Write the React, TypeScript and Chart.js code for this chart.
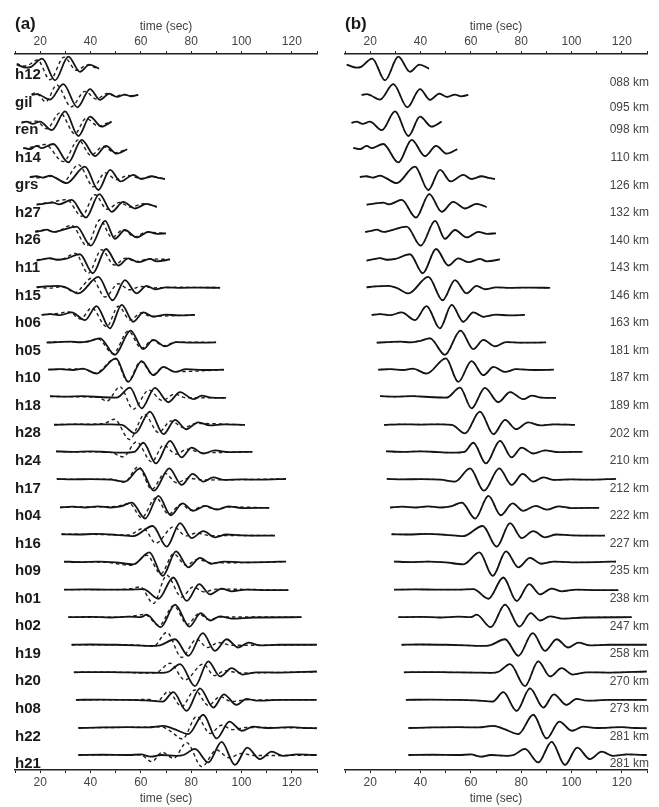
import React, { useEffect, useRef } from 'react';
import { Chart, registerables } from 'chart.js';

Chart.register(...registerables);

const stations = ['h12','gil','ren','h14','grs','h27','h26','h11','h15','h06','h05','h10','h18','h28','h24','h17','h04','h16','h09','h01','h02','h19','h20','h08','h22','h21'];
const distances = ['088 km','095 km','098 km','110 km','126 km','132 km','140 km','143 km','146 km','163 km','181 km','187 km','189 km','202 km','210 km','212 km','222 km','227 km','235 km','238 km','247 km','258 km','270 km','273 km','281 km','281 km'];
const timeTickLabels = [20, 40, 60, 80, 100, 120];

// [time (s), amplitude in trace-spacing units]
const sH12 = [[10.7,0.05],[14.6,-0.06],[16.4,-0.03],[20.8,0.27],[25.9,-0.52],[31.2,0.34],[35.8,-0.21],[39.6,0.05],[43.4,-0.1]];
const dH12 = [[10.7,0.08],[13.8,0.0],[15.3,0.03],[18.9,0.22],[23.9,-0.5],[29.5,0.32],[34.5,-0.16],[38.7,0.04],[42.4,-0.08]];
const sGil = [[16.6,-0.05],[18.6,-0.02],[20.5,-0.08],[23.9,-0.22],[29.2,0.34],[34.8,-0.5],[39.8,0.16],[43.8,-0.23],[47.5,0.0],[50.5,-0.12],[53.7,-0.04],[56.2,-0.1],[59,-0.05]];
const dGil = [[16.6,-0.02],[18.3,0.03],[22.2,-0.3],[26.6,0.31],[32.3,-0.48],[37.8,0.08],[42.4,-0.2],[46.6,0.0],[50,-0.1],[53,-0.03],[56,-0.08],[58.5,-0.04]];
const sRen = [[12.6,-0.06],[14.6,-0.02],[17,-0.1],[19.9,-0.02],[24.6,-0.33],[29.9,0.35],[35.2,-0.54],[39.8,0.16],[44.4,-0.2],[48.4,-0.02]];
const dRen = [[12.6,-0.03],[15,-0.05],[18.5,0.0],[22.6,-0.28],[27.9,0.3],[33.8,-0.46],[38.2,0.1],[43.1,-0.18],[47.8,-0.02]];
const sH14 = [[13.3,0.03],[16,-0.02],[18.6,0.1],[20.6,0.02],[25.2,0.17],[31.2,-0.5],[36.5,0.32],[41.8,-0.27],[46.2,0.1],[50.4,-0.18],[54.6,-0.02]];
const dH14 = [[13.3,0.0],[17,0.06],[21.9,0.15],[29.2,-0.47],[35.2,0.32],[40.1,-0.24],[45.1,0.08],[49.7,-0.15],[54.4,-0.02]];
const sGrs = [[15.9,-0.03],[18.5,0.0],[21,-0.05],[24,0.02],[26.5,-0.08],[30.5,-0.25],[37.8,0.35],[43.1,-0.5],[47.8,0.23],[52,-0.19],[57,0.05],[60.3,-0.1],[64.3,0.0],[67,-0.06],[69.6,-0.1]];
const dGrs = [[15.9,-0.03],[20,-0.06],[24.6,0.0],[29.2,-0.2],[35.2,0.42],[41.2,-0.38],[45.8,0.12],[50.4,-0.12],[55,0.03],[60,-0.08],[65,-0.02],[69.6,-0.1]];
const sH27 = [[18.6,-0.03],[21,0.0],[25.2,0.04],[27.5,-0.02],[32.5,0.14],[38.2,-0.5],[43.5,0.35],[48.4,-0.29],[53,0.07],[57.7,-0.17],[62.3,0.0],[66.3,-0.12]];
const dH27 = [[18.6,-0.02],[24,0.05],[30.5,0.15],[36.5,-0.45],[41.8,0.33],[46.6,-0.2],[51.5,0.05],[56,-0.12],[61,0.0],[66.3,-0.1]];
const sH26 = [[18,-0.02],[20.5,0.02],[22.6,0.06],[25.2,-0.02],[28,0.03],[34.5,0.17],[40.1,-0.52],[45.8,0.38],[49.7,-0.27],[53.7,0.05],[58.3,-0.22],[63,-0.02],[66.5,-0.09],[70,-0.07]];
const dH26 = [[18,0.0],[22,0.05],[26,-0.02],[32.5,0.22],[38.5,-0.52],[43.8,0.42],[48.5,-0.22],[53,0.06],[57.5,-0.2],[62,-0.03],[70,-0.08]];
const sH11 = [[18.6,-0.06],[21,-0.02],[23.9,0.03],[26.6,-0.03],[30,0.0],[35.8,0.17],[40.9,-0.52],[46.2,0.36],[51.1,-0.24],[55,0.02],[59,-0.12],[63.6,0.0],[66.3,-0.09],[71.6,-0.02]];
const dH11 = [[18.6,-0.04],[23,0.02],[28,-0.03],[34,0.2],[39.1,-0.52],[44.4,0.33],[49.5,-0.22],[54,0.03],[58,-0.1],[63,0.0],[71.6,-0.02]];
const sH15 = [[18.6,-0.03],[22,0.0],[27.2,0.02],[30.5,-0.05],[35.2,-0.25],[43.1,0.35],[48.8,-0.5],[53.7,0.23],[58.3,-0.25],[62.3,0.02],[65.6,-0.1],[70,-0.03],[76,-0.05],[84,-0.04],[91.5,-0.05]];
const dH15 = [[18.6,-0.02],[24,-0.06],[29,0.0],[33.8,-0.22],[40.5,0.3],[45.8,-0.38],[51.1,0.1],[55.5,-0.12],[60,0.0],[65,-0.05],[75,-0.03],[91.5,-0.04]];
const sH06 = [[20.6,-0.03],[24,0.0],[28,-0.04],[32.5,0.06],[37.8,-0.22],[42.4,0.29],[47.7,-0.52],[52.4,0.33],[57,-0.28],[61,0.06],[65,-0.1],[70,-0.02],[75,-0.05],[81.5,-0.03]];
const dH06 = [[20.6,-0.02],[27,0.02],[31.5,0.08],[36,-0.18],[40.5,0.22],[46.4,-0.46],[51.1,0.28],[55.8,-0.22],[60,0.04],[64,-0.08],[81.5,-0.03]];
const sH05 = [[22.6,-0.04],[27,-0.02],[32,0.0],[36,-0.03],[40,0.03],[43.8,0.12],[49.7,-0.48],[55.9,0.4],[61,-0.27],[65,0.06],[69.6,-0.17],[74,-0.02],[80,-0.04],[89.9,-0.03]];
const dH05 = [[22.6,-0.03],[30,0.0],[38,-0.02],[43,0.1],[49,-0.44],[55,0.38],[60.3,-0.25],[64.5,0.05],[69,-0.15],[74,-0.02],[89.9,-0.03]];
const sH10 = [[23.2,-0.02],[28,0.0],[33,-0.03],[37,0.02],[42.4,-0.16],[50.1,0.39],[55,-0.46],[60.3,0.29],[65,-0.22],[69,0.08],[73.6,-0.1],[78,0.0],[85,-0.03],[93,-0.02]];
const dH10 = [[23.2,-0.01],[30,0.0],[37,0.01],[42,-0.14],[49.8,0.38],[54.8,-0.45],[60,0.28],[64.8,-0.2],[69,0.07],[73.5,-0.09],[93,-0.02]];
const sH18 = [[23.9,0.02],[30,0.0],[37,0.02],[45,-0.02],[50.4,-0.03],[55.7,0.33],[60.3,-0.42],[65.6,0.32],[70.9,-0.2],[75.6,0.17],[80.9,-0.09],[84.2,0.04],[88,-0.03],[93.8,-0.04]];
const dH18 = [[23.9,0.01],[35,0.0],[43,-0.02],[46.5,-0.16],[51.7,0.36],[57,-0.45],[63.2,0.24],[68.5,-0.14],[73.5,0.1],[78,-0.04],[93.8,-0.04]];
const sH28 = [[25.5,-0.02],[32,0.0],[40,-0.01],[48,0.0],[52.5,-0.02],[57.7,-0.33],[63.6,0.46],[69,-0.36],[73.6,0.16],[78,-0.18],[82.8,0.07],[87.5,-0.04],[93,0.0],[101.4,-0.02]];
const dH28 = [[25.5,-0.01],[35,0.0],[45,0.02],[49.5,0.18],[55.5,-0.55],[61.5,0.35],[67,-0.3],[72,0.12],[77,-0.12],[82,0.03],[101.4,-0.02]];
const sH24 = [[26.3,0.02],[33,0.0],[40,0.02],[47,-0.01],[53,-0.03],[57.5,0.0],[61,0.33],[66,-0.42],[71.6,0.4],[76.2,-0.2],[80.2,0.15],[84.8,-0.06],[89.5,0.05],[95,-0.01],[104.3,0.0]];
const dH24 = [[26.3,0.01],[40,0.0],[48,-0.02],[53,-0.18],[58.3,0.36],[64.3,-0.36],[69,0.24],[74,-0.08],[78.5,0.1],[84,-0.03],[104.3,0.0]];
const sH17 = [[26.6,0.02],[33,0.0],[40,0.01],[48,-0.01],[53.7,-0.08],[59.7,0.4],[65.2,-0.41],[71.3,0.4],[76.2,-0.2],[80.6,0.2],[84.8,-0.08],[88.8,0.07],[93,-0.02],[100,0.0],[108,-0.01],[117.7,0.02]];
const dH17 = [[26.6,0.01],[40,0.0],[48,0.01],[53.5,-0.1],[59,0.46],[64.3,-0.36],[69.6,0.22],[74.2,-0.12],[79,0.04],[85,-0.02],[117.7,0.02]];
const sH04 = [[27.9,-0.02],[33,0.01],[38,-0.02],[43,0.02],[48,-0.02],[52,0.02],[56.4,0.16],[61.7,-0.42],[67,0.4],[71.9,-0.3],[76.6,0.13],[80.8,-0.14],[85.8,0.04],[90.1,-0.1],[94.8,0.02],[100,-0.04],[111,-0.03]];
const dH04 = [[27.9,-0.01],[40,0.0],[50,0.02],[55.5,0.12],[60.3,-0.39],[66,0.34],[71,-0.26],[76,0.1],[80,-0.12],[85,0.04],[89.5,-0.08],[95,0.0],[111,-0.03]];
const sH16 = [[28.5,0.01],[35,0.0],[42,0.02],[50,-0.01],[57,-0.06],[64.7,0.31],[70.3,-0.44],[75.6,0.41],[80.2,-0.13],[84.8,0.12],[89.5,-0.1],[94,0.0],[100,-0.03],[113.3,-0.04]];
const dH16 = [[28.5,0.01],[45,0.0],[55,-0.02],[61,0.22],[66,-0.31],[73,0.28],[78,-0.05],[82,0.05],[88,-0.04],[113.3,-0.03]];
const sH09 = [[29.5,0.02],[36,0.0],[43,0.02],[50,-0.01],[57,-0.08],[63.4,0.35],[68.7,-0.5],[74,0.39],[78.9,-0.19],[83.5,0.15],[88,-0.06],[93,0.02],[100,-0.01],[110,0.0],[117.7,0.02]];
const dH09 = [[29.5,0.01],[45,0.0],[56.5,-0.12],[62.3,0.25],[68,-0.42],[73,0.3],[78,-0.12],[82.5,0.1],[88,-0.03],[117.7,0.01]];
const sH01 = [[29.5,0.0],[38,0.01],[46,0.0],[55,0.0],[61,0.02],[67,-0.33],[72.9,0.44],[78.2,-0.41],[83.2,0.2],[87.5,-0.17],[92.1,0.04],[96,-0.06],[102,0.0],[110,-0.02],[118.6,-0.02]];
const dH01 = [[29.5,0.0],[50,0.0],[56,0.03],[59.7,0.1],[65,-0.5],[70.3,0.52],[76.2,-0.27],[80.8,0.1],[85,-0.08],[90,0.02],[118.6,-0.02]];
const sH02 = [[31.2,0.0],[40,0.01],[48,-0.01],[55,0.02],[60,0.0],[62.3,0.09],[67.9,-0.36],[73.6,0.46],[79.3,-0.34],[83.8,0.15],[87.5,-0.12],[91.5,0.03],[96,-0.05],[105,-0.01],[123.9,0.0]];
const dH02 = [[31.2,0.0],[45,0.0],[55,0.02],[61.5,0.1],[67.3,-0.3],[73,0.42],[78.5,-0.26],[83,0.12],[87,-0.08],[92,0.01],[123.9,0.0]];
const sH19 = [[32.5,0.0],[40,0.01],[50,0.0],[58,-0.02],[64,-0.04],[67.5,-0.02],[73.6,0.2],[78.9,-0.4],[84.6,0.42],[89.5,-0.22],[94.1,0.2],[98.7,-0.1],[102.8,0.08],[107,-0.02],[115,0.0],[129.9,0.0]];
const dH19 = [[32.5,0.0],[50,0.0],[60,-0.02],[65,-0.06],[70.3,0.45],[76.2,-0.46],[82.2,0.2],[86.5,-0.1],[90.8,0.08],[96,-0.02],[129.9,0.0]];
const sH20 = [[33.4,0.0],[42,0.01],[52,0.0],[62,-0.01],[68,-0.02],[71,0.02],[75.6,0.3],[81.5,-0.5],[86.8,0.4],[91.5,-0.15],[96.1,0.15],[100.5,-0.08],[106,0.0],[115,-0.01],[129.9,0.03]];
const dH20 = [[33.4,0.0],[52,0.0],[63,-0.03],[66.5,0.0],[71.6,0.33],[77.5,-0.28],[84.8,0.3],[89.2,-0.12],[93.5,0.06],[99,-0.02],[129.9,0.02]];
const sH08 = [[34.2,0.0],[44,0.01],[54,0.0],[62,-0.02],[68.7,-0.06],[72.9,0.28],[78.2,-0.4],[83.5,0.42],[88.8,-0.28],[93,0.2],[98,-0.18],[102,0.04],[106,-0.03],[115,0.0],[129.9,0.0]];
const dH08 = [[34.2,0.0],[55,0.0],[63,0.02],[66.5,-0.05],[70.9,0.3],[76.2,-0.24],[81.5,0.36],[86.8,-0.2],[91.5,0.12],[96,-0.06],[102,0.0],[129.9,0.0]];
const sH22 = [[35.2,-0.02],[45,0.0],[55,0.01],[63,0.0],[69,0.06],[73,-0.05],[78.9,-0.24],[84.8,0.46],[90.1,-0.4],[95.2,0.21],[100.1,-0.12],[104.7,0.03],[110,-0.02],[120,0.01],[125,-0.02],[129.9,-0.03]];
const dH22 = [[35.2,-0.01],[50,0.0],[62,0.01],[68,0.02],[72,-0.15],[76.5,-0.42],[82.2,0.4],[87.5,-0.22],[92.1,0.08],[96.5,-0.08],[102,0.0],[129.9,-0.02]];
const sH21 = [[35.2,0.0],[45,0.01],[55,0.0],[60,0.02],[64,-0.06],[68,0.0],[74,-0.03],[77,0.0],[81.5,0.22],[86.8,-0.27],[92.1,0.48],[97.4,-0.36],[102.3,0.27],[107.3,-0.15],[112,0.12],[116.5,-0.03],[122,0.02],[129.9,0.0]];
const dH21 = [[35.2,0.0],[50,0.01],[60,0.0],[64.3,-0.24],[68.5,0.1],[73,-0.12],[78.2,0.45],[84.2,-0.42],[90.1,0.18],[95,-0.1],[100.1,0.06],[105,-0.02],[129.9,-0.01]];

const observedTraces = [sH12,sGil,sRen,sH14,sGrs,sH27,sH26,sH11,sH15,sH06,sH05,sH10,sH18,sH28,sH24,sH17,sH04,sH16,sH09,sH01,sH02,sH19,sH20,sH08,sH22,sH21];
const syntheticA = [dH12,dGil,dRen,dH14,dGrs,dH27,dH26,dH11,dH15,dH06,dH05,dH10,dH18,dH28,dH24,dH17,dH04,dH16,dH09,dH01,dH02,dH19,dH20,dH08,dH22,dH21];
// in panel (b) the synthetic fits the observed waveform
const syntheticB = observedTraces;

const FONT = '"Liberation Sans", Arial, Helvetica, sans-serif';
const N = stations.length;

function buildChart(canvas: HTMLCanvasElement, panel: 'a' | 'b') {
  const synth = panel === 'a' ? syntheticA : syntheticB;
  const datasets: any[] = [];
  observedTraces.forEach((tr, i) => {
    datasets.push({
      data: tr.map(([t, a]) => ({ x: t, y: (N - 1 - i) + a })),
      borderColor: '#141414', borderWidth: 1.8, pointRadius: 0,
      cubicInterpolationMode: 'monotone', fill: false,
    });
  });
  synth.forEach((tr, i) => {
    datasets.push({
      data: tr.map(([t, a]) => ({ x: t, y: (N - 1 - i) + a })),
      borderColor: panel === 'a' ? '#222' : '#777', borderWidth: 1.4, borderDash: [3.5, 3], pointRadius: 0,
      cubicInterpolationMode: 'monotone', fill: false,
    });
  });

  const axisCommon = (pos: 'top' | 'bottom') => ({
    type: 'linear', position: pos, min: 10, max: 130,
    border: { display: true, color: '#222', width: 1.6 },
    grid: { drawOnChartArea: false, drawTicks: true, tickLength: 3, color: '#222', lineWidth: 1 },
    ticks: {
      stepSize: 10, autoSkip: false, maxRotation: 0, padding: 2, color: '#444',
      font: { family: FONT, size: 12 },
      callback: (v: number) => (timeTickLabels.includes(v) ? String(v) : ''),
    },
    title: {
      display: true, text: 'time (sec)', color: '#444', font: { family: FONT, size: 12 },
      padding: pos === 'top' ? { top: 19, bottom: 0 } : { top: 0, bottom: 1 },
    },
    afterFit: (s: any) => { s.height = pos === 'top' ? 54 : 37; },
  });

  const labelPlugin = {
    id: 'labels' + panel,
    afterDraw(chart: any) {
      const ctx = chart.ctx;
      const ys = chart.scales.y;
      ctx.save();
      ctx.fillStyle = '#1a1a1a';
      ctx.font = `bold 17px ${FONT}`;
      ctx.textAlign = 'left';
      ctx.textBaseline = 'alphabetic';
      ctx.fillText(panel === 'a' ? '(a)' : '(b)', 15, 29);
      if (panel === 'a') {
        ctx.font = `bold 15px ${FONT}`;
        ctx.textBaseline = 'middle';
        stations.forEach((s, i) => {
          ctx.fillText(s, 15, ys.getPixelForValue(N - 1 - i) + 9);
        });
      } else {
        ctx.font = `12px ${FONT}`;
        ctx.fillStyle = '#444';
        ctx.textAlign = 'right';
        ctx.textBaseline = 'middle';
        distances.forEach((d, i) => {
          const extra = i === 0 ? 8 : i === 1 ? 5 : 0;
          ctx.fillText(d, chart.chartArea.right + 2, ys.getPixelForValue(N - 1 - i) + 9 + extra);
        });
      }
      ctx.restore();
    },
  };

  return new Chart(canvas, {
    type: 'line',
    data: { datasets },
    options: {
      animation: false, responsive: false, maintainAspectRatio: false,
      parsing: false as any,
      layout: { padding: { left: 15, right: panel === 'a' ? 13 : 12, top: 0, bottom: 0 } },
      plugins: { legend: { display: false }, tooltip: { enabled: false } },
      events: [],
      scales: {
        x: axisCommon('top') as any,
        x2: axisCommon('bottom') as any,
        y: { type: 'linear', display: false, min: -0.544, max: 25.435 },
      },
    },
    plugins: [labelPlugin],
  });
}

export default function App() {
  const refA = useRef<HTMLCanvasElement>(null);
  const refB = useRef<HTMLCanvasElement>(null);
  useEffect(() => {
    const a = buildChart(refA.current!, 'a');
    const b = buildChart(refB.current!, 'b');
    return () => { a.destroy(); b.destroy(); };
  }, []);
  return (
    <div style={{ position: 'absolute', left: 0, top: 0, width: 659, height: 807, background: '#fff' }}>
      <canvas ref={refA} width={330} height={807} style={{ position: 'absolute', left: 0, top: 0 }} />
      <canvas ref={refB} width={329} height={807} style={{ position: 'absolute', left: 330, top: 0 }} />
    </div>
  );
}
